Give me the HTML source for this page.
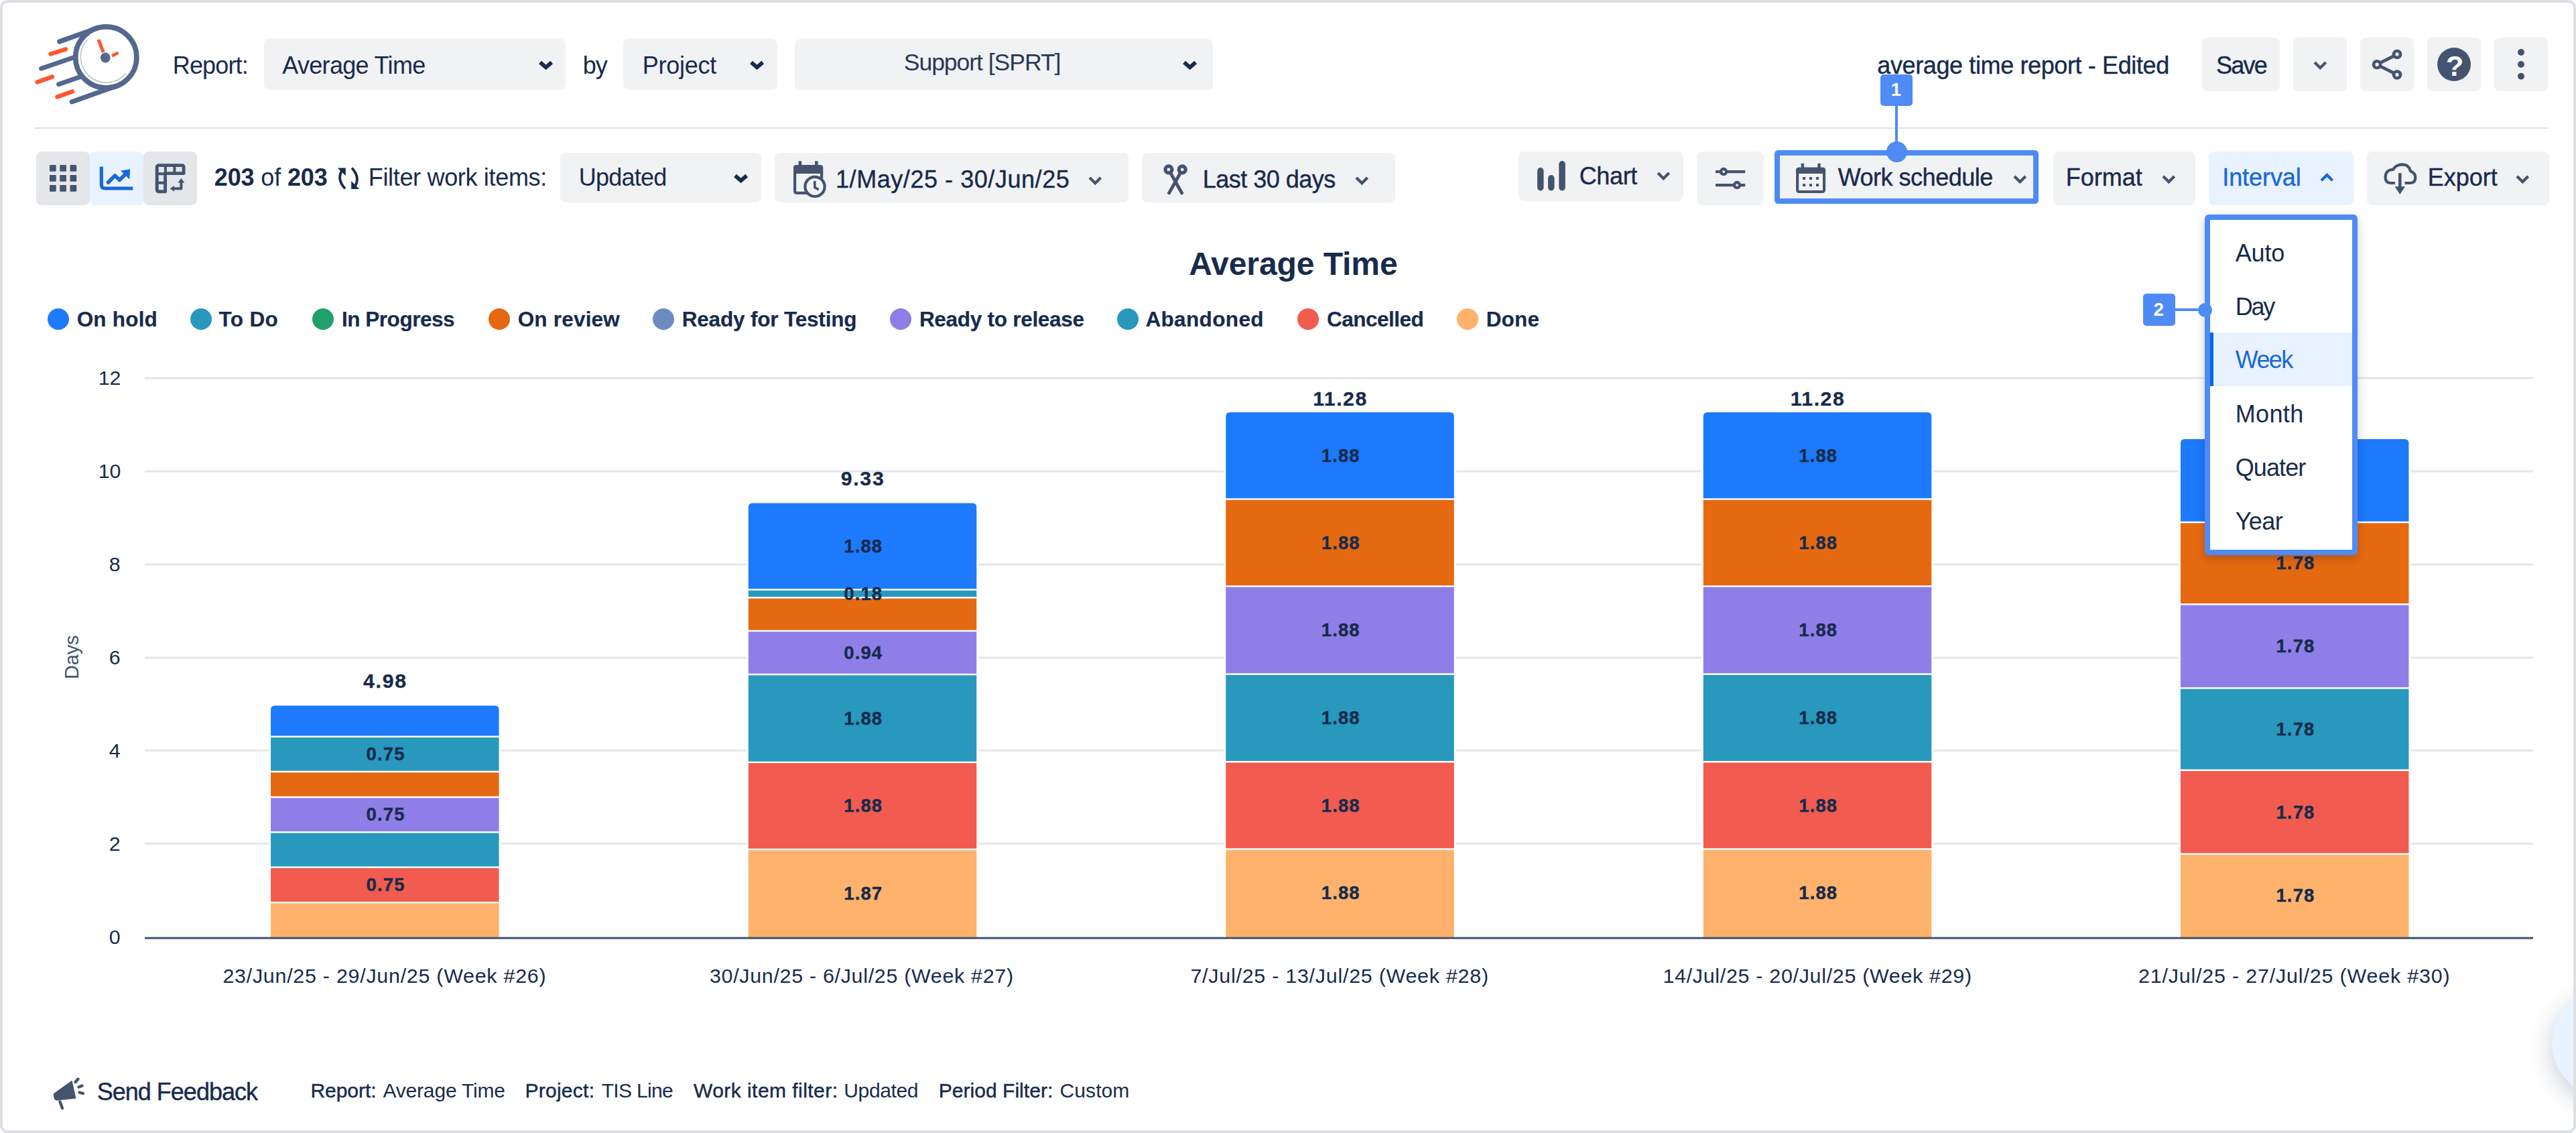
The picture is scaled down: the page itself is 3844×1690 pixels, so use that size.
<!DOCTYPE html>
<html lang="en"><head><meta charset="utf-8"><title>Average Time report</title>
<style>
html,body{margin:0;padding:0;background:#fff}
body{width:3844px;height:1690px;overflow:hidden;position:relative;font-family:"Liberation Sans",Arial,sans-serif;color:#172b4d}
#frame{position:absolute;left:0;top:0;width:3836px;height:1682px;border:4px solid #dcdfe4;border-radius:11px;background:#fff}
#page{position:absolute;left:0;top:0;width:3844px;height:1690px;overflow:hidden}
.b{position:absolute}
.i{position:absolute;overflow:visible}
.t{position:absolute;white-space:nowrap;line-height:1;margin:0;padding:0}
.t b{font-weight:700}
</style></head>
<body>
<div id="page">
<header role="banner" aria-label="Report header">
<svg class="i" style="left:40px;top:25px" width="180" height="140" viewBox="40 25 180 140">
<g fill="none" stroke-linecap="round">
<circle cx="158.3" cy="85.5" r="45.6" stroke="#54688f" stroke-width="7.6"/>
<path d="M129.5 60 A38.2 38.2 0 1 0 187.5 109.8" stroke="#bdbdbd" stroke-width="1.5"/>
<path d="M88.8 62 L143.3 42.7" stroke="#54688f" stroke-width="7.2"/>
<path d="M61.5 102.3 L112 85" stroke="#54688f" stroke-width="6.8"/>
<path d="M87.5 125.8 L120 114.5" stroke="#54688f" stroke-width="6.8"/>
<path d="M107.3 151.8 L173.5 128.3" stroke="#54688f" stroke-width="7.2"/>
<path d="M75.5 80.5 L98 73.5" stroke="#ff5630" stroke-width="6.3"/>
<path d="M55.5 122.5 L78 114.5" stroke="#ff5630" stroke-width="6.3"/>
<path d="M85.5 144.5 L108 136.5" stroke="#ff5630" stroke-width="6.3"/>
<path d="M146.8 59 L154.3 78" stroke="#ff5630" stroke-width="5" stroke-linecap="butt"/>
<path d="M167 83.5 L176.5 78.5" stroke="#ff5630" stroke-width="4.6" stroke-linecap="butt"/>
</g>
<circle cx="157.3" cy="86" r="7.4" fill="#54688f"/></svg>
<span class="t" style="left:257.74px;top:79.53px;font-size:36px;letter-spacing:-0.840px;">Report:</span>
<div class="b" style="left:394px;top:58px;width:450px;height:76px;background:#f1f2f4;border-radius:8px;"></div>
<span class="t" style="left:421.24px;top:79.53px;font-size:36px;letter-spacing:-0.676px;">Average Time</span>
<svg class="i" style="left:797.9px;top:84.8px" width="33.2" height="23.4" viewBox="797.9 84.8 33.2 23.4"><path d="M805.9 92.8 L814.5 100.2 L823.1 92.8" fill="none" stroke="#172b4d" stroke-width="5.8" stroke-linecap="butt" stroke-linejoin="miter"/></svg>
<span class="t" style="left:869.74px;top:79.53px;font-size:36px;letter-spacing:-1.011px;">by</span>
<div class="b" style="left:930px;top:58px;width:230px;height:76px;background:#f1f2f4;border-radius:8px;"></div>
<span class="t" style="left:958.74px;top:79.53px;font-size:36px;letter-spacing:-0.254px;">Project</span>
<svg class="i" style="left:1113.4px;top:84.8px" width="33.2" height="23.4" viewBox="1113.4 84.8 33.2 23.4"><path d="M1121.4 92.8 L1130 100.2 L1138.6 92.8" fill="none" stroke="#172b4d" stroke-width="5.8" stroke-linecap="butt" stroke-linejoin="miter"/></svg>
<div class="b" style="left:1186px;top:58px;width:624px;height:76px;background:#f1f2f4;border-radius:8px;"></div>
<span class="t" style="left:1348.76px;top:75.55px;font-size:35.5px;color:#253858;letter-spacing:-1.022px;">Support [SPRT]</span>
<svg class="i" style="left:1759.4px;top:84.8px" width="33.2" height="23.4" viewBox="1759.4 84.8 33.2 23.4"><path d="M1767.4 92.8 L1776 100.2 L1784.6 92.8" fill="none" stroke="#172b4d" stroke-width="5.8" stroke-linecap="butt" stroke-linejoin="miter"/></svg>
<span class="t" style="left:2801.24px;top:79.53px;font-size:36px;-webkit-text-stroke:0.4px currentColor;letter-spacing:-0.378px;">average time report - Edited</span>
<div class="b" style="left:3286px;top:56px;width:116px;height:80px;background:#f1f2f4;border-radius:8px;"></div>
<span class="t" style="left:3307.04px;top:79.53px;font-size:36px;-webkit-text-stroke:0.4px currentColor;letter-spacing:-1.781px;">Save</span>
<div class="b" style="left:3422px;top:56px;width:80px;height:80px;background:#f1f2f4;border-radius:8px;"></div>
<svg class="i" style="left:3445.7px;top:84.65px" width="32.6" height="24.2" viewBox="3445.7 84.65 32.6 24.2"><path d="M3453.7 92.65 L3462 100.85 L3470.3 92.65" fill="none" stroke="#44546f" stroke-width="4.3" stroke-linecap="butt" stroke-linejoin="miter"/></svg>
<div class="b" style="left:3522px;top:56px;width:80px;height:80px;background:#f1f2f4;border-radius:8px;"></div>
<svg class="i" style="left:3530px;top:64px" width="64" height="64" viewBox="3530 64 64 64"><g fill="none" stroke="#44546f" stroke-width="4.7">
<path d="M3551.5 93.8 L3572.5 83.3 M3551.5 98.7 L3572.5 109.2"/>
<circle cx="3547" cy="96.25" r="5"/><circle cx="3577" cy="81" r="5"/><circle cx="3577" cy="111.5" r="5"/></g></svg>
<div class="b" style="left:3622px;top:56px;width:80px;height:80px;background:#f1f2f4;border-radius:8px;"></div>
<div class="b" style="left:3637px;top:70.5px;width:50px;height:50px;border-radius:50%;background:#44546f"></div>
<span class="t" style="left:3649.99px;top:77.20px;font-size:43px;font-weight:700;color:#fff;">?</span>
<div class="b" style="left:3722px;top:56px;width:80px;height:80px;background:#f1f2f4;border-radius:8px;"></div>
<svg class="i" style="left:3750px;top:66px" width="24" height="60" viewBox="3750 66 24 60"><g fill="#44546f"><circle cx="3762" cy="78" r="5"/><circle cx="3762" cy="96" r="5"/><circle cx="3762" cy="113.8" r="5"/></g></svg>
<div class="b" style="left:52px;top:190px;width:3750px;height:2px;background:#dcdfe4;border-radius:0"></div>
</header>
<div role="toolbar" aria-label="Report filters and view options">
<div class="b" style="left:54px;top:226px;width:80px;height:80px;background:#e4e6ea;border-radius:8px"></div>
<div class="b" style="left:134px;top:226px;width:80px;height:80px;background:#e9f2ff;border-radius:8px"></div>
<div class="b" style="left:214px;top:226px;width:80px;height:80px;background:#e4e6ea;border-radius:8px"></div>
<svg class="i" style="left:70px;top:242px" width="48" height="48" viewBox="70 242 48 48"><g fill="#44546f"><rect x="74.0" y="246" width="9.7" height="9.7" rx="1"/><rect x="89.25" y="246" width="9.7" height="9.7" rx="1"/><rect x="104.5" y="246" width="9.7" height="9.7" rx="1"/><rect x="74.0" y="261" width="9.7" height="9.7" rx="1"/><rect x="89.25" y="261" width="9.7" height="9.7" rx="1"/><rect x="104.5" y="261" width="9.7" height="9.7" rx="1"/><rect x="74.0" y="276" width="9.7" height="9.7" rx="1"/><rect x="89.25" y="276" width="9.7" height="9.7" rx="1"/><rect x="104.5" y="276" width="9.7" height="9.7" rx="1"/></g></svg>
<svg class="i" style="left:145px;top:244px" width="58" height="46" viewBox="145 244 58 46"><g fill="none" stroke="#1868db" stroke-width="5.2" stroke-linejoin="round">
<path d="M151.3 248.5 V275.5 Q151.3 281 157 281 H198.3"/>
<path d="M161.5 272 L171.5 262 L178.5 268.5 L188.5 258.5" stroke-width="5.6" stroke-linecap="round"/>
</g><path d="M180 254.5 L194.2 252.6 L193.2 267.5 Z" fill="#1868db"/></svg>
<svg class="i" style="left:228px;top:240px" width="54" height="52" viewBox="228 240 54 52"><g fill="none" stroke="#44546f" stroke-width="4" stroke-linejoin="round" stroke-linecap="round">
<path d="M237.3 246.6 H271 Q274.1 246.6 274.1 249.7 V258.6 H246.6 V285.7 H237.3 Q234.2 285.7 234.2 282.6 V249.7 Q234.2 246.6 237.3 246.6 Z" stroke-width="4.9"/>
<path d="M246.9 246.6 V258.6 M260.4 246.6 V258.6 M234.2 259.2 H246.6 M234.2 272.8 H246.6"/>
<path d="M258.5 281.3 H270.4 V270.5"/>
</g>
<path d="M265.4 272.6 L270.4 266 L275.4 272.6 Z M259.8 276.9 L253.6 281.3 L259.8 285.7 Z" fill="#44546f"/></svg>
<span class="t" style="left:319.74px;top:247.03px;font-size:36px;letter-spacing:-0.130px;"><b>203</b> of <b>203</b></span>
<svg class="i" style="left:498px;top:244px" width="44" height="44" viewBox="498 244 44 44"><g fill="none" stroke="#172b4d" stroke-width="3.8" stroke-linecap="butt">
<path d="M515 281.5 Q502.5 268 509.8 254.5"/>
<path d="M525 250.5 Q537.5 264 530.2 277.5"/>
</g>
<path d="M503.8 250.4 H515.8 V262.2 Z" fill="#172b4d"/>
<path d="M524.2 270 V282 H536.2 Z" fill="#172b4d"/></svg>
<span class="t" style="left:549.74px;top:247.03px;font-size:36px;letter-spacing:-0.324px;">Filter work items:</span>
<div class="b" style="left:836px;top:228px;width:300px;height:74px;background:#f1f2f4;border-radius:8px;"></div>
<span class="t" style="left:863.74px;top:247.03px;font-size:36px;letter-spacing:-0.765px;">Updated</span>
<svg class="i" style="left:1089.4px;top:254.3px" width="33.2" height="23.4" viewBox="1089.4 254.3 33.2 23.4"><path d="M1097.4 262.3 L1106 269.7 L1114.6 262.3" fill="none" stroke="#172b4d" stroke-width="5.8" stroke-linecap="butt" stroke-linejoin="miter"/></svg>
<div class="b" style="left:1156px;top:228px;width:528px;height:74px;background:#f1f2f4;border-radius:8px;"></div>
<svg class="i" style="left:1180px;top:236px" width="58" height="64" viewBox="1180 236 58 64"><path d="M1184 250.2 Q1184 246.1 1188.1 246.1 H1224.1 Q1228.2 246.1 1228.2 250.2 V259 H1184 Z" fill="#44546f"/>
<g fill="none" stroke="#44546f" stroke-width="4.2">
<path d="M1186.1 257 V284.8 Q1186.1 287.9 1189.2 287.9 H1204"/><path d="M1226.1 257 V266"/>
<path d="M1193.9 240.2 V250 M1218.3 240.2 V250" stroke-width="4.6"/>
<circle cx="1216" cy="278.4" r="14.6" fill="#f1f2f4"/>
<path d="M1215.8 270 V279.7 L1221.6 282.8" stroke-width="3.6" stroke-linecap="butt"/></g></svg>
<span class="t" style="left:1247.04px;top:249.53px;font-size:36px;-webkit-text-stroke:0.4px currentColor;letter-spacing:0.554px;">1/May/25 - 30/Jun/25</span>
<svg class="i" style="left:1617.7px;top:256.65px" width="32.6" height="24.2" viewBox="1617.7 256.65 32.6 24.2"><path d="M1625.7 264.65 L1634 272.85 L1642.3 264.65" fill="none" stroke="#44546f" stroke-width="4.3" stroke-linecap="butt" stroke-linejoin="miter"/></svg>
<div class="b" style="left:1704px;top:228px;width:378px;height:74px;background:#f1f2f4;border-radius:8px;"></div>
<svg class="i" style="left:1730px;top:240px" width="50" height="56" viewBox="1730 240 50 56"><g fill="none" stroke="#44546f" stroke-linecap="butt">
<circle cx="1743.9" cy="252.9" r="5" stroke-width="5.2"/><circle cx="1764.2" cy="252.9" r="5" stroke-width="5.2"/>
<path d="M1747 258.5 L1764.6 289.8 M1761.1 258.5 L1743.5 289.8" stroke-width="4.8"/></g></svg>
<span class="t" style="left:1794.74px;top:249.53px;font-size:36px;-webkit-text-stroke:0.4px currentColor;letter-spacing:-0.511px;">Last 30 days</span>
<svg class="i" style="left:2016.2px;top:256.65px" width="32.6" height="24.2" viewBox="2016.2 256.65 32.6 24.2"><path d="M2024.2 264.65 L2032.5 272.85 L2040.8 264.65" fill="none" stroke="#44546f" stroke-width="4.3" stroke-linecap="butt" stroke-linejoin="miter"/></svg>
<div class="b" style="left:2266px;top:226px;width:246px;height:74px;background:#f1f2f4;border-radius:8px;"></div>
<svg class="i" style="left:2290px;top:236px" width="50" height="52" viewBox="2290 236 50 52"><g fill="#44546f"><rect x="2294" y="250" width="9.5" height="34.5" rx="4.7"/><rect x="2310" y="261" width="9.5" height="23.5" rx="4.7"/><rect x="2326.3" y="240" width="9.5" height="44.5" rx="4.7"/></g></svg>
<span class="t" style="left:2356.74px;top:244.53px;font-size:36px;-webkit-text-stroke:0.4px currentColor;letter-spacing:-0.378px;">Chart</span>
<svg class="i" style="left:2465.7px;top:250.39999999999998px" width="32.6" height="24.2" viewBox="2465.7 250.39999999999998 32.6 24.2"><path d="M2473.7 258.4 L2482 266.6 L2490.3 258.4" fill="none" stroke="#44546f" stroke-width="4.3" stroke-linecap="butt" stroke-linejoin="miter"/></svg>
<div class="b" style="left:2532px;top:226px;width:100px;height:80px;background:#f1f2f4;border-radius:8px;"></div>
<svg class="i" style="left:2555px;top:246px" width="54" height="42" viewBox="2555 246 54 42"><g fill="none" stroke="#44546f" stroke-width="4.2" stroke-linecap="butt">
<path d="M2560 256.1 H2604.2 M2560 276.1 H2604.2"/>
<circle cx="2572.1" cy="256.1" r="4.1" fill="#f1f2f4" stroke-width="4.3"/><circle cx="2592" cy="276.1" r="4.1" fill="#f1f2f4" stroke-width="4.3"/></g></svg>
<div class="b" style="left:2648px;top:224px;width:378px;height:64px;border:8px solid #4e8bf5;border-radius:5.5px;background:#f1f2f4"></div>
<svg class="i" style="left:2676px;top:240px" width="52" height="52" viewBox="2676 240 52 52"><path d="M2680.1 253.8 Q2680.1 249.8 2684.1 249.8 H2720.1 Q2724.1 249.8 2724.1 253.8 V259 H2680.1 Z" fill="#44546f"/>
<g fill="none" stroke="#44546f" stroke-width="4.1">
<rect x="2682.15" y="251.85" width="39.9" height="34.1" rx="2.5"/>
<path d="M2689.9 243.8 V252 M2714.5 243.8 V252" stroke-width="4.4"/></g>
<g fill="#44546f"><rect x="2690.1" y="264.1" width="4" height="4"/><rect x="2700.0499999999997" y="264.1" width="4" height="4"/><rect x="2710.0" y="264.1" width="4" height="4"/><rect x="2690.1" y="274.1" width="4" height="4"/><rect x="2700.0499999999997" y="274.1" width="4" height="4"/><rect x="2710.0" y="274.1" width="4" height="4"/></g></svg>
<span class="t" style="left:2742.74px;top:247.03px;font-size:36px;-webkit-text-stroke:0.4px currentColor;letter-spacing:-0.494px;">Work schedule</span>
<svg class="i" style="left:2997.7px;top:254.89999999999998px" width="32.6" height="24.2" viewBox="2997.7 254.89999999999998 32.6 24.2"><path d="M3005.7 262.9 L3014 271.1 L3022.3 262.9" fill="none" stroke="#44546f" stroke-width="4.3" stroke-linecap="butt" stroke-linejoin="miter"/></svg>
<div class="b" style="left:2806px;top:110.5px;width:48px;height:47px;background:#4e8bf5;border-radius:5px"></div>
<div class="b" style="left:2827.7px;top:155px;width:4.6px;height:62px;background:#4e8bf5;border-radius:0"></div>
<div class="b" style="left:2814.5px;top:210.5px;width:31px;height:31px;background:#4e8bf5;border-radius:50%"></div>
<span class="t" style="left:2821.52px;top:120.10px;font-size:28px;font-weight:700;color:#fff;">1</span>
<div class="b" style="left:3064px;top:226px;width:212px;height:80px;background:#f1f2f4;border-radius:8px;"></div>
<span class="t" style="left:3082.74px;top:247.03px;font-size:36px;-webkit-text-stroke:0.4px currentColor;">Format</span>
<svg class="i" style="left:3219.7px;top:254.89999999999998px" width="32.6" height="24.2" viewBox="3219.7 254.89999999999998 32.6 24.2"><path d="M3227.7 262.9 L3236 271.1 L3244.3 262.9" fill="none" stroke="#44546f" stroke-width="4.3" stroke-linecap="butt" stroke-linejoin="miter"/></svg>
<div class="b" style="left:3296px;top:226px;width:216px;height:80px;background:#e9f2ff;border-radius:8px;"></div>
<span class="t" style="left:3316.24px;top:247.03px;font-size:36px;color:#1868db;-webkit-text-stroke:0.4px currentColor;letter-spacing:-0.078px;">Interval</span>
<svg class="i" style="left:3455.7px;top:252.89999999999998px" width="32.6" height="24.2" viewBox="3455.7 252.89999999999998 32.6 24.2"><path d="M3463.7 269.1 L3472 260.9 L3480.3 269.1" fill="none" stroke="#1868db" stroke-width="4.3" stroke-linecap="butt" stroke-linejoin="miter"/></svg>
<div class="b" style="left:3532px;top:226px;width:272px;height:80px;background:#f1f2f4;border-radius:8px;"></div>
<svg class="i" style="left:3552px;top:238px" width="60" height="56" viewBox="3552 238 60 56"><g fill="none" stroke="#44546f" stroke-width="4.2" stroke-linecap="butt" stroke-linejoin="round">
<path d="M3574 273 H3566.5 Q3559.6 272.5 3559.6 264.5 Q3559.6 254.8 3568 253.2 L3571 252.8 Q3575.5 245.3 3585 245.3 Q3595 245.6 3597 255.3 Q3604.3 257.8 3604.3 265.5 Q3604 273 3596 273 H3588.5"/>
<path d="M3581.3 258.2 V281" stroke-width="4.6"/></g>
<path d="M3573.6 278.2 H3589 L3581.3 290 Z" fill="#44546f"/></svg>
<span class="t" style="left:3622.84px;top:247.23px;font-size:36px;-webkit-text-stroke:0.4px currentColor;letter-spacing:-0.025px;">Export</span>
<svg class="i" style="left:3747.7px;top:254.89999999999998px" width="32.6" height="24.2" viewBox="3747.7 254.89999999999998 32.6 24.2"><path d="M3755.7 262.9 L3764 271.1 L3772.3 262.9" fill="none" stroke="#44546f" stroke-width="4.3" stroke-linecap="butt" stroke-linejoin="miter"/></svg>
</div>
<section role="img" aria-label="Average Time stacked bar chart">
<span class="t" style="left:1774.32px;top:369.87px;font-size:48px;font-weight:700;letter-spacing:-0.074px;">Average Time</span>
<div class="b" style="left:71px;top:459.5px;width:32px;height:32px;border-radius:50%;background:#1d7afc"></div>
<span class="t" style="left:114.65px;top:461.14px;font-size:31.5px;font-weight:700;-webkit-text-stroke:0.2px currentColor;letter-spacing:0.203px;">On hold</span>
<div class="b" style="left:284px;top:459.5px;width:32px;height:32px;border-radius:50%;background:#2898bd"></div>
<span class="t" style="left:326.40px;top:461.14px;font-size:31.5px;font-weight:700;-webkit-text-stroke:0.2px currentColor;letter-spacing:0.391px;">To Do</span>
<div class="b" style="left:466px;top:459.5px;width:32px;height:32px;border-radius:50%;background:#22a06b"></div>
<span class="t" style="left:509.90px;top:461.14px;font-size:31.5px;font-weight:700;-webkit-text-stroke:0.2px currentColor;letter-spacing:-0.461px;">In Progress</span>
<div class="b" style="left:729px;top:459.5px;width:32px;height:32px;border-radius:50%;background:#e56910"></div>
<span class="t" style="left:772.65px;top:461.14px;font-size:31.5px;font-weight:700;-webkit-text-stroke:0.2px currentColor;letter-spacing:0.203px;">On review</span>
<div class="b" style="left:973.5px;top:459.5px;width:32px;height:32px;border-radius:50%;background:#6c8cc0"></div>
<span class="t" style="left:1017.65px;top:461.14px;font-size:31.5px;font-weight:700;-webkit-text-stroke:0.2px currentColor;letter-spacing:-0.173px;">Ready for Testing</span>
<div class="b" style="left:1327.75px;top:459.5px;width:32px;height:32px;border-radius:50%;background:#8f7ee7"></div>
<span class="t" style="left:1371.90px;top:461.14px;font-size:31.5px;font-weight:700;-webkit-text-stroke:0.2px currentColor;letter-spacing:-0.279px;">Ready to release</span>
<div class="b" style="left:1667px;top:459.5px;width:32px;height:32px;border-radius:50%;background:#2898bd"></div>
<span class="t" style="left:1709.40px;top:461.14px;font-size:31.5px;font-weight:700;-webkit-text-stroke:0.2px currentColor;letter-spacing:0.369px;">Abandoned</span>
<div class="b" style="left:1936px;top:459.5px;width:32px;height:32px;border-radius:50%;background:#f15b50"></div>
<span class="t" style="left:1979.90px;top:461.14px;font-size:31.5px;font-weight:700;-webkit-text-stroke:0.2px currentColor;letter-spacing:-0.482px;">Cancelled</span>
<div class="b" style="left:2173.5px;top:459.5px;width:32px;height:32px;border-radius:50%;background:#feb26b"></div>
<span class="t" style="left:2217.65px;top:461.14px;font-size:31.5px;font-weight:700;-webkit-text-stroke:0.2px currentColor;letter-spacing:0.235px;">Done</span>
<svg class="i" style="left:0;top:540px" width="3844" height="880" viewBox="0 540 3844 880"><rect x="216" y="562.5" width="3564" height="3" fill="#e5e6ea"/><rect x="216" y="701.5" width="3564" height="3" fill="#e5e6ea"/><rect x="216" y="840.5" width="3564" height="3" fill="#e5e6ea"/><rect x="216" y="979.5" width="3564" height="3" fill="#e5e6ea"/><rect x="216" y="1118.0" width="3564" height="3" fill="#e5e6ea"/><rect x="216" y="1257.0" width="3564" height="3" fill="#e5e6ea"/><rect x="401.04999999999995" y="1050.0" width="346.5" height="348.0" fill="#fff"/><path d="M404.04999999999995 1097.55 V1058.5 Q404.04999999999995 1052.5 410.04999999999995 1052.5 H738.55 Q744.55 1052.5 744.55 1058.5 V1097.55 Z" fill="#1d7afc"/><rect x="404.04999999999995" y="1100.05" width="340.5" height="49.70" fill="#2898bd"/><rect x="404.04999999999995" y="1152.25" width="340.5" height="35.50" fill="#e56910"/><rect x="404.04999999999995" y="1190.25" width="340.5" height="49.80" fill="#8f7ee7"/><rect x="404.04999999999995" y="1242.55" width="340.5" height="49.80" fill="#2898bd"/><rect x="404.04999999999995" y="1294.85" width="340.5" height="50.10" fill="#f15b50"/><rect x="404.04999999999995" y="1347.45" width="340.5" height="50.55" fill="#feb26b"/><rect x="1113.75" y="747.9" width="346.5" height="650.1" fill="#fff"/><path d="M1116.75 878.25 V756.4 Q1116.75 750.4 1122.75 750.4 H1451.25 Q1457.25 750.4 1457.25 756.4 V878.25 Z" fill="#1d7afc"/><rect x="1116.75" y="880.75" width="340.5" height="9.50" fill="#2898bd"/><rect x="1116.75" y="892.75" width="340.5" height="47.00" fill="#e56910"/><rect x="1116.75" y="942.25" width="340.5" height="62.50" fill="#8f7ee7"/><rect x="1116.75" y="1007.25" width="340.5" height="128.50" fill="#2898bd"/><rect x="1116.75" y="1138.25" width="340.5" height="127.50" fill="#f15b50"/><rect x="1116.75" y="1268.25" width="340.5" height="129.75" fill="#feb26b"/><rect x="1826.25" y="612.5" width="346.5" height="785.5" fill="#fff"/><path d="M1829.25 743.25 V621 Q1829.25 615 1835.25 615 H2163.75 Q2169.75 615 2169.75 621 V743.25 Z" fill="#1d7afc"/><rect x="1829.25" y="745.75" width="340.5" height="127.50" fill="#e56910"/><rect x="1829.25" y="875.75" width="340.5" height="128.50" fill="#8f7ee7"/><rect x="1829.25" y="1006.75" width="340.5" height="128.30" fill="#2898bd"/><rect x="1829.25" y="1137.55" width="340.5" height="127.70" fill="#f15b50"/><rect x="1829.25" y="1267.75" width="340.5" height="130.25" fill="#feb26b"/><rect x="2538.75" y="612.5" width="346.5" height="785.5" fill="#fff"/><path d="M2541.75 743.25 V621 Q2541.75 615 2547.75 615 H2876.25 Q2882.25 615 2882.25 621 V743.25 Z" fill="#1d7afc"/><rect x="2541.75" y="745.75" width="340.5" height="127.50" fill="#e56910"/><rect x="2541.75" y="875.75" width="340.5" height="128.50" fill="#8f7ee7"/><rect x="2541.75" y="1006.75" width="340.5" height="128.30" fill="#2898bd"/><rect x="2541.75" y="1137.55" width="340.5" height="127.70" fill="#f15b50"/><rect x="2541.75" y="1267.75" width="340.5" height="130.25" fill="#feb26b"/><rect x="3250.95" y="652.5" width="346.5" height="745.5" fill="#fff"/><path d="M3253.95 777.75 V661 Q3253.95 655 3259.95 655 H3588.45 Q3594.45 655 3594.45 661 V777.75 Z" fill="#1d7afc"/><rect x="3253.95" y="780.25" width="340.5" height="119.90" fill="#e56910"/><rect x="3253.95" y="902.65" width="340.5" height="122.50" fill="#8f7ee7"/><rect x="3253.95" y="1027.65" width="340.5" height="119.90" fill="#2898bd"/><rect x="3253.95" y="1150.05" width="340.5" height="122.50" fill="#f15b50"/><rect x="3253.95" y="1275.05" width="340.5" height="122.95" fill="#feb26b"/><rect x="216" y="1397.7" width="3564" height="3" fill="#44546f"/></svg>
<span class="t" style="left:546.54px;top:1111.12px;font-size:27.5px;font-weight:700;-webkit-text-stroke:0.4px currentColor;letter-spacing:1.131px;">0.75</span>
<span class="t" style="left:546.54px;top:1201.37px;font-size:27.5px;font-weight:700;-webkit-text-stroke:0.4px currentColor;letter-spacing:1.131px;">0.75</span>
<span class="t" style="left:546.54px;top:1306.12px;font-size:27.5px;font-weight:700;-webkit-text-stroke:0.4px currentColor;letter-spacing:1.131px;">0.75</span>
<span class="t" style="left:541.94px;top:1001.44px;font-size:30.2px;font-weight:700;-webkit-text-stroke:0.3px currentColor;letter-spacing:1.783px;">4.98</span>
<span class="t" style="left:1259.24px;top:801.17px;font-size:27.5px;font-weight:700;-webkit-text-stroke:0.4px currentColor;letter-spacing:1.131px;">1.88</span>
<span class="t" style="left:1259.24px;top:871.72px;font-size:27.5px;font-weight:700;-webkit-text-stroke:0.4px currentColor;letter-spacing:1.131px;">0.18</span>
<span class="t" style="left:1259.24px;top:959.72px;font-size:27.5px;font-weight:700;-webkit-text-stroke:0.4px currentColor;letter-spacing:1.131px;">0.94</span>
<span class="t" style="left:1259.24px;top:1057.72px;font-size:27.5px;font-weight:700;-webkit-text-stroke:0.4px currentColor;letter-spacing:1.131px;">1.88</span>
<span class="t" style="left:1259.24px;top:1188.22px;font-size:27.5px;font-weight:700;-webkit-text-stroke:0.4px currentColor;letter-spacing:1.131px;">1.88</span>
<span class="t" style="left:1259.24px;top:1318.72px;font-size:27.5px;font-weight:700;-webkit-text-stroke:0.4px currentColor;letter-spacing:1.131px;">1.87</span>
<span class="t" style="left:1254.64px;top:699.44px;font-size:30.2px;font-weight:700;-webkit-text-stroke:0.3px currentColor;letter-spacing:1.783px;">9.33</span>
<span class="t" style="left:1971.74px;top:665.97px;font-size:27.5px;font-weight:700;-webkit-text-stroke:0.4px currentColor;letter-spacing:1.131px;">1.88</span>
<span class="t" style="left:1971.74px;top:795.72px;font-size:27.5px;font-weight:700;-webkit-text-stroke:0.4px currentColor;letter-spacing:1.131px;">1.88</span>
<span class="t" style="left:1971.74px;top:926.22px;font-size:27.5px;font-weight:700;-webkit-text-stroke:0.4px currentColor;letter-spacing:1.131px;">1.88</span>
<span class="t" style="left:1971.74px;top:1057.12px;font-size:27.5px;font-weight:700;-webkit-text-stroke:0.4px currentColor;letter-spacing:1.131px;">1.88</span>
<span class="t" style="left:1971.74px;top:1187.62px;font-size:27.5px;font-weight:700;-webkit-text-stroke:0.4px currentColor;letter-spacing:1.131px;">1.88</span>
<span class="t" style="left:1971.74px;top:1318.47px;font-size:27.5px;font-weight:700;-webkit-text-stroke:0.4px currentColor;letter-spacing:1.131px;">1.88</span>
<span class="t" style="left:1959.14px;top:579.94px;font-size:30.2px;font-weight:700;-webkit-text-stroke:0.3px currentColor;letter-spacing:1.556px;">11.28</span>
<span class="t" style="left:2684.24px;top:665.97px;font-size:27.5px;font-weight:700;-webkit-text-stroke:0.4px currentColor;letter-spacing:1.131px;">1.88</span>
<span class="t" style="left:2684.24px;top:795.72px;font-size:27.5px;font-weight:700;-webkit-text-stroke:0.4px currentColor;letter-spacing:1.131px;">1.88</span>
<span class="t" style="left:2684.24px;top:926.22px;font-size:27.5px;font-weight:700;-webkit-text-stroke:0.4px currentColor;letter-spacing:1.131px;">1.88</span>
<span class="t" style="left:2684.24px;top:1057.12px;font-size:27.5px;font-weight:700;-webkit-text-stroke:0.4px currentColor;letter-spacing:1.131px;">1.88</span>
<span class="t" style="left:2684.24px;top:1187.62px;font-size:27.5px;font-weight:700;-webkit-text-stroke:0.4px currentColor;letter-spacing:1.131px;">1.88</span>
<span class="t" style="left:2684.24px;top:1318.47px;font-size:27.5px;font-weight:700;-webkit-text-stroke:0.4px currentColor;letter-spacing:1.131px;">1.88</span>
<span class="t" style="left:2671.64px;top:579.94px;font-size:30.2px;font-weight:700;-webkit-text-stroke:0.3px currentColor;letter-spacing:1.556px;">11.28</span>
<span class="t" style="left:3396.44px;top:703.22px;font-size:27.5px;font-weight:700;-webkit-text-stroke:0.4px currentColor;letter-spacing:1.131px;">1.78</span>
<span class="t" style="left:3396.44px;top:826.42px;font-size:27.5px;font-weight:700;-webkit-text-stroke:0.4px currentColor;letter-spacing:1.131px;">1.78</span>
<span class="t" style="left:3396.44px;top:950.12px;font-size:27.5px;font-weight:700;-webkit-text-stroke:0.4px currentColor;letter-spacing:1.131px;">1.78</span>
<span class="t" style="left:3396.44px;top:1073.82px;font-size:27.5px;font-weight:700;-webkit-text-stroke:0.4px currentColor;letter-spacing:1.131px;">1.78</span>
<span class="t" style="left:3396.44px;top:1197.52px;font-size:27.5px;font-weight:700;-webkit-text-stroke:0.4px currentColor;letter-spacing:1.131px;">1.78</span>
<span class="t" style="left:3396.44px;top:1322.12px;font-size:27.5px;font-weight:700;-webkit-text-stroke:0.4px currentColor;letter-spacing:1.131px;">1.78</span>
<span class="t" style="left:3383.84px;top:620.94px;font-size:30.2px;font-weight:700;-webkit-text-stroke:0.3px currentColor;letter-spacing:1.142px;">10.68</span>
<span class="t" style="left:146.74px;top:548.07px;font-size:30.4px;letter-spacing:-0.184px;">12</span>
<span class="t" style="left:146.74px;top:687.07px;font-size:30.4px;letter-spacing:-0.184px;">10</span>
<span class="t" style="left:162.74px;top:826.07px;font-size:30.4px;">8</span>
<span class="t" style="left:162.74px;top:965.07px;font-size:30.4px;">6</span>
<span class="t" style="left:162.74px;top:1103.57px;font-size:30.4px;">4</span>
<span class="t" style="left:162.74px;top:1242.57px;font-size:30.4px;">2</span>
<span class="t" style="left:162.74px;top:1382.07px;font-size:30.4px;">0</span>
<span class="t" style="left:332.44px;top:1439.87px;font-size:30.4px;letter-spacing:0.747px;">23/Jun/25 - 29/Jun/25 (Week #26)</span>
<span class="t" style="left:1058.94px;top:1439.87px;font-size:30.4px;letter-spacing:0.707px;">30/Jun/25 - 6/Jul/25 (Week #27)</span>
<span class="t" style="left:1776.44px;top:1439.87px;font-size:30.4px;letter-spacing:0.762px;">7/Jul/25 - 13/Jul/25 (Week #28)</span>
<span class="t" style="left:2481.44px;top:1439.87px;font-size:30.4px;letter-spacing:0.708px;">14/Jul/25 - 20/Jul/25 (Week #29)</span>
<span class="t" style="left:3190.94px;top:1439.87px;font-size:30.4px;letter-spacing:0.837px;">21/Jul/25 - 27/Jul/25 (Week #30)</span>
<div class="t" style="left:93.4px;top:1013.2px;font-size:29px;color:#44546f;transform-origin:0 0;transform:rotate(-90deg);letter-spacing:-0.15px">Days</div>
</section>
<div role="menu" aria-label="Interval">
<div class="b" style="left:3290px;top:320px;width:212px;height:492px;border:8px solid #4e8bf5;border-radius:6px;background:#fff;box-shadow:0 5px 14px rgba(9,30,66,.24)"></div>
<div class="b" style="left:3298px;top:496px;width:212px;height:80px;background:#e9f2ff;border-radius:0"></div>
<div class="b" style="left:3298px;top:496px;width:4.5px;height:80px;background:#0c66e4;border-radius:0"></div>
<span class="t" style="left:3335.74px;top:359.53px;font-size:36px;letter-spacing:-0.181px;">Auto</span>
<span class="t" style="left:3335.74px;top:440.03px;font-size:36px;letter-spacing:-2.256px;">Day</span>
<span class="t" style="left:3335.74px;top:518.83px;font-size:36px;color:#1868db;letter-spacing:-1.618px;">Week</span>
<span class="t" style="left:3335.74px;top:600.03px;font-size:36px;letter-spacing:0.364px;">Month</span>
<span class="t" style="left:3335.74px;top:679.53px;font-size:36px;letter-spacing:-0.909px;">Quater</span>
<span class="t" style="left:3335.74px;top:759.53px;font-size:36px;letter-spacing:-0.577px;">Year</span>
<div class="b" style="left:3198px;top:438px;width:48px;height:48px;background:#4e8bf5;border-radius:5px"></div>
<div class="b" style="left:3244px;top:459.7px;width:40px;height:4.6px;background:#4e8bf5;border-radius:0"></div>
<div class="b" style="left:3279.5px;top:451.5px;width:21px;height:21px;background:#4e8bf5;border-radius:50%"></div>
<span class="t" style="left:3213.52px;top:448.30px;font-size:28px;font-weight:700;color:#fff;">2</span>
</div>
<footer aria-label="Report summary">
<svg class="i" style="left:74px;top:1602px" width="58" height="58" viewBox="74 1602 58 58"><path d="M80 1634 Q79 1631.5 81.5 1630 L107.5 1611.5 L113.5 1638.5 L86 1641.5 Q82 1642 80.5 1638 Z" fill="#44546f"/>
<g stroke="#44546f" stroke-width="4.4" stroke-linecap="round" fill="none">
<path d="M89.5 1643.5 L93 1653"/>
<path d="M112.5 1614 L116.5 1609.5 M117.5 1621.5 L122.5 1619.5 M118.5 1629.5 L124 1631"/></g></svg>
<span class="t" style="left:144.74px;top:1610.53px;font-size:36px;-webkit-text-stroke:0.4px currentColor;letter-spacing:-0.993px;">Send Feedback</span>
<span class="t" style="left:463.45px;top:1612.11px;font-size:30px;-webkit-text-stroke:0.45px currentColor;letter-spacing:-0.048px;">Report:</span>
<span class="t" style="left:571.45px;top:1612.11px;font-size:30px;letter-spacing:-0.177px;">Average Time</span>
<span class="t" style="left:783.45px;top:1612.11px;font-size:30px;-webkit-text-stroke:0.45px currentColor;letter-spacing:0.269px;">Project:</span>
<span class="t" style="left:897.70px;top:1612.11px;font-size:30px;letter-spacing:-0.662px;">TIS Line</span>
<span class="t" style="left:1034.95px;top:1612.11px;font-size:30px;-webkit-text-stroke:0.45px currentColor;letter-spacing:0.455px;">Work item filter:</span>
<span class="t" style="left:1259.25px;top:1612.11px;font-size:30px;letter-spacing:-0.356px;">Updated</span>
<span class="t" style="left:1400.75px;top:1612.11px;font-size:30px;-webkit-text-stroke:0.45px currentColor;letter-spacing:0.034px;">Period Filter:</span>
<span class="t" style="left:1581.55px;top:1612.11px;font-size:30px;letter-spacing:0.088px;">Custom</span>
<div class="b" style="left:3808px;top:1475.5px;width:160px;height:160px;border-radius:50%;background:#e9f2ff;box-shadow:0 10px 36px rgba(9,30,66,.22)"></div>
</footer>
</div>
<div id="frame" style="background:none;pointer-events:none"></div>
</body></html>
